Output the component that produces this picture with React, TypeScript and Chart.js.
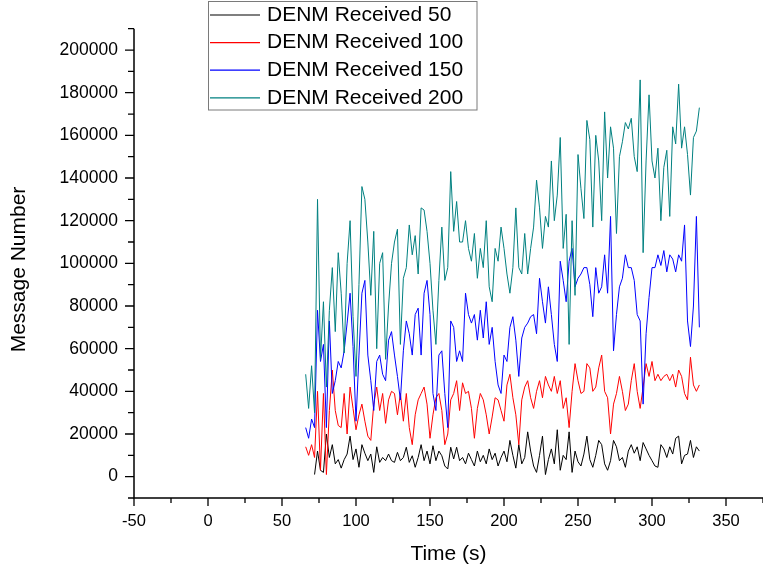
import { useEffect, useRef } from 'react';
import { Chart, registerables } from 'chart.js';

Chart.register(...registerables);

// Sampling grid of the recorded series (seconds)
const T_START = 66;
const T_STEP = 2;

const received50 = [
  null, null, null, 1000, 12000, 3000, 2000, 20000, 9000, 15000,
  6000, 8000, 4000, 8000, 10600, 19000, 8000, 13000, 4400, 15000,
  11000, 7500, 10600, 2000, 14000, 6700, 9000, 7500, 10600, 7500,
  6700, 11400, 7500, 9000, 13800, 6700, 9800, 4400, 9000, 15000,
  7500, 12000, 6000, 14500, 7500, 12000, 9800, 5000, 3600, 13800,
  8300, 13800, 7500, 9000, 6000, 11000, 8000, 5000, 12000, 7000,
  10000, 6000, 13000, 8000, 11000, 5000, 9000, 12000, 7000, 17000,
  10000, 4000, 15000, 6000, 9000, 21000, 12000, 5000, 2000, 10000,
  19000, 1000, 8000, 13000, 6000, 22000, 3000, 10000, 8000, 21000,
  2000, 12000, 7000, 5000, 10600, 19000, 8000, 4400, 10000, 17000,
  15000, 6000, 3000, 7500, 17000, 14000, 7500, 9000, 4400, 12000,
  15000, 11000, 14000, 7500, 16000, 13000, 10000, 7500, 5000, 4400,
  15000, 13000, 9000, 14000, 10600, 18000, 19000, 6000, 10000, 10600,
  17000, 9000, 14000, 12000,
];

const received100 = [
  14000, 10000, 15000, 9000, 40000, 3000, 39000, 1000, 31000, 50000,
  31000, 24000, 23000, 39000, 20000, 42000, 32000, 22000, 29000, 34000,
  26000, 19000, 17000, 34000, 42000, 31000, 39000, 25000, 36000, 40000,
  39000, 29000, 39000, 26000, 39000, 23000, 15000, 29000, 36000, 39000,
  42000, 34000, 18000, 29000, 37000, 39000, 31000, 15000, 20000, 36000,
  39000, 45000, 31000, 44000, 39000, 40000, 32000, 18000, 32000, 39000,
  36000, 29000, 20000, 28000, 37000, 36000, 31000, 26000, 43000, 48000,
  37000, 29000, 15000, 36000, 42000, 45000, 37000, 32000, 40000, 45000,
  37000, 47000, 43000, 40000, 47000, 39000, 45000, 32000, 37000, 23000,
  40000, 53000, 45000, 39000, 40000, 53000, 51000, 40000, 42000, 51000,
  57000, 40000, 37000, 20000, 34000, 39000, 47000, 40000, 31000, 34000,
  45000, 53000, 40000, 32000, 42000, 53000, 47000, 54000, 45000, 48000,
  45000, 47000, 48000, 45000, 48000, 42000, 50000, 47000, 39000, 36000,
  56000, 43000, 40000, 43000,
];

const received150 = [
  23000, 18000, 27000, 23000, 78000, 54000, 62000, 23000, 73000, 39000,
  45000, 54000, 51000, 59000, 72000, 86000, 61000, 26000, 57000, 86000,
  92000, 57000, 45000, 31000, 54000, 57000, 48000, 45000, 64000, 68000,
  57000, 47000, 36000, 59000, 73000, 67000, 57000, 76000, 79000, 57000,
  86000, 92000, 76000, 39000, 31000, 57000, 59000, 39000, 23000, 73000,
  70000, 54000, 59000, 54000, 86000, 76000, 72000, 76000, 64000, 78000,
  65000, 82000, 62000, 70000, 54000, 43000, 39000, 57000, 54000, 70000,
  75000, 64000, 47000, 65000, 70000, 72000, 75000, 76000, 67000, 93000,
  82000, 72000, 89000, 76000, 62000, 54000, 101000, 92000, 82000, 101000,
  107000, 89000, 93000, 95000, 98000, 98000, 90000, 75000, 98000, 86000,
  89000, 104000, 86000, 122000, 59000, 76000, 89000, 93000, 104000, 98000,
  98000, 92000, 76000, 73000, 34000, 67000, 84000, 98000, 98000, 104000,
  99000, 106000, 96000, 104000, 102000, 96000, 104000, 101000, 118000, 73000,
  61000, 80000, 122000, 70000,
];

const received200 = [
  48000, 32000, 52000, 30000, 130000, 55000, 82000, 42000, 78000, 98000,
  68000, 105000, 86000, 58000, 100000, 120000, 75000, 47000, 90000, 136000,
  130000, 110000, 85000, 115000, 60000, 100000, 105000, 55000, 80000, 100000,
  110000, 116000, 62000, 93000, 98000, 118000, 104000, 113000, 95000, 126000,
  125000, 115000, 100000, 78000, 62000, 92000, 117000, 92000, 98000, 143000,
  115000, 129000, 110000, 110000, 120000, 107000, 101000, 114000, 93000, 107000,
  98000, 120000, 89000, 82000, 107000, 101000, 117000, 107000, 95000, 86000,
  98000, 126000, 98000, 95000, 114000, 95000, 107000, 117000, 139000, 126000,
  107000, 122000, 117000, 148000, 120000, 132000, 159000, 107000, 123000, 62000,
  120000, 85000, 151000, 135000, 121000, 167000, 158000, 117000, 160000, 148000,
  120000, 171000, 140000, 164000, 154000, 114000, 150000, 157000, 166000, 163000,
  168000, 150000, 143000, 186000, 105000, 148000, 179000, 148000, 140000, 154000,
  120000, 145000, 153000, 122000, 164000, 156000, 184000, 154000, 164000, 151000,
  132000, 159000, 162000, 173000,
];

const seriesNames = ['DENM Received 50', 'DENM Received 100', 'DENM Received 150', 'DENM Received 200'];
const seriesValues = [received50, received100, received150, received200];
const seriesColors = ['#000000', '#ff0000', '#0000ff', '#008080'];

const xTickLabels = [-50, 0, 50, 100, 150, 200, 250, 300, 350];
const yTickLabels = [0, 20000, 40000, 60000, 80000, 100000, 120000, 140000, 160000, 180000, 200000];
const yAxisTitle = 'Message Number';

const FONT = '"Liberation Sans", Arial, Helvetica, sans-serif';

function toPoints(values: (number | null)[]) {
  return values.map((v, i) => ({ x: T_START + i * T_STEP, y: v }));
}

// Axis lines with long (labelled) and short (unlabelled) tick marks, the y title and the boxed legend
const framePlugin = {
  id: 'frameAndLegend',
  afterDatasetsDraw(chart: any) {
    const { ctx, chartArea, scales } = chart;
    const xs = scales.x;
    const ys = scales.y;
    ctx.save();
    ctx.strokeStyle = '#000';
    ctx.lineWidth = 1.5;
    ctx.beginPath();
    ctx.moveTo(chartArea.left, chartArea.top);
    ctx.lineTo(chartArea.left, chartArea.bottom);
    ctx.lineTo(chartArea.right, chartArea.bottom);
    ctx.stroke();

    ctx.lineWidth = 1.3;
    ctx.beginPath();
    xs.ticks.forEach((t: any) => {
      const px = xs.getPixelForValue(t.value);
      const len = t.value % 50 === 0 ? 8 : 5;
      ctx.moveTo(px, chartArea.bottom);
      ctx.lineTo(px, chartArea.bottom + len);
    });
    ys.ticks.forEach((t: any) => {
      const py = ys.getPixelForValue(t.value);
      const len = yTickLabels.includes(t.value) ? 9 : 6;
      ctx.moveTo(chartArea.left, py);
      ctx.lineTo(chartArea.left - len, py);
    });
    ctx.stroke();

    // rotated y-axis title, centred slightly below the middle of the axis
    ctx.translate(19, 269.5);
    ctx.rotate(-Math.PI / 2);
    ctx.font = `21px ${FONT}`;
    ctx.fillStyle = '#000';
    ctx.textAlign = 'center';
    ctx.textBaseline = 'middle';
    ctx.fillText(yAxisTitle, 0, 0);
    ctx.restore();
  },
  afterDraw(chart: any) {
    const { ctx } = chart;
    const box = { x: 208.5, y: 1.5, w: 268.5, h: 108.5 };
    ctx.save();
    ctx.fillStyle = '#ffffff';
    ctx.fillRect(box.x, box.y, box.w, box.h);
    ctx.strokeStyle = '#7a7a7a';
    ctx.lineWidth = 1;
    ctx.strokeRect(box.x, box.y, box.w, box.h);
    ctx.font = `21px ${FONT}`;
    ctx.textBaseline = 'middle';
    ctx.textAlign = 'left';
    chart.data.datasets.forEach((ds: any, i: number) => {
      const y = 15 + i * 27.6;
      ctx.strokeStyle = ds.borderColor;
      ctx.lineWidth = 1.2;
      ctx.beginPath();
      ctx.moveTo(210, y);
      ctx.lineTo(260, y);
      ctx.stroke();
      ctx.fillStyle = '#000';
      ctx.fillText(ds.label, 267, y);
    });
    ctx.restore();
  },
};

export default function App() {
  const canvasRef = useRef<HTMLCanvasElement>(null);

  useEffect(() => {
    const canvas = canvasRef.current;
    if (!canvas) return;
    const chart = new Chart(canvas, {
      type: 'line',
      data: {
        datasets: seriesNames.map((name, i) => ({
          label: name,
          data: toPoints(seriesValues[i]),
          borderColor: seriesColors[i],
          backgroundColor: seriesColors[i],
          borderWidth: 1,
          pointRadius: 0,
          pointHoverRadius: 0,
          tension: 0,
          fill: false,
          spanGaps: false,
          order: seriesNames.length - 1 - i,
        })),
      },
      options: {
        responsive: false,
        animation: false,
        devicePixelRatio: 1,
        layout: { autoPadding: false, padding: { top: 28.7, right: 0, bottom: 0, left: 0 } },
        plugins: {
          legend: { display: false },
          tooltip: { enabled: false },
        },
        scales: {
          x: {
            type: 'linear',
            position: 'bottom',
            min: -50,
            max: 375,
            grid: { display: false, drawTicks: false },
            border: { display: false },
            ticks: {
              stepSize: 25,
              autoSkip: false,
              maxRotation: 0,
              minRotation: 0,
              padding: 14,
              color: '#000',
              font: { family: FONT, size: 16.5 },
              callback: (v: any) => (xTickLabels.includes(Number(v)) ? String(v) : ''),
            },
            title: {
              display: true,
              text: 'Time (s)',
              color: '#000',
              font: { family: FONT, size: 21 },
              padding: { top: 0, bottom: 3 },
            },
            afterFit: (s: any) => {
              s.height = 72;
              s.paddingLeft = 0;
              s.paddingRight = 0;
            },
          },
          y: {
            type: 'linear',
            min: -10000,
            max: 210000,
            grid: { display: false, drawTicks: false },
            border: { display: false },
            ticks: {
              stepSize: 10000,
              autoSkip: false,
              padding: 16,
              color: '#000',
              font: { family: FONT, size: 17.5 },
              callback: (v: any) => (yTickLabels.includes(Number(v)) ? String(v) : ''),
            },
            title: { display: false },
            afterFit: (s: any) => {
              s.width = 134;
              s.paddingTop = 0;
              s.paddingBottom = 0;
            },
          },
        },
      },
      plugins: [framePlugin],
    });
    return () => chart.destroy();
  }, []);

  return (
    <div style={{ position: 'absolute', left: 0, top: 0, width: 763, height: 570, background: '#ffffff' }}>
      <canvas ref={canvasRef} width={763} height={570} style={{ display: 'block' }} />
    </div>
  );
}
